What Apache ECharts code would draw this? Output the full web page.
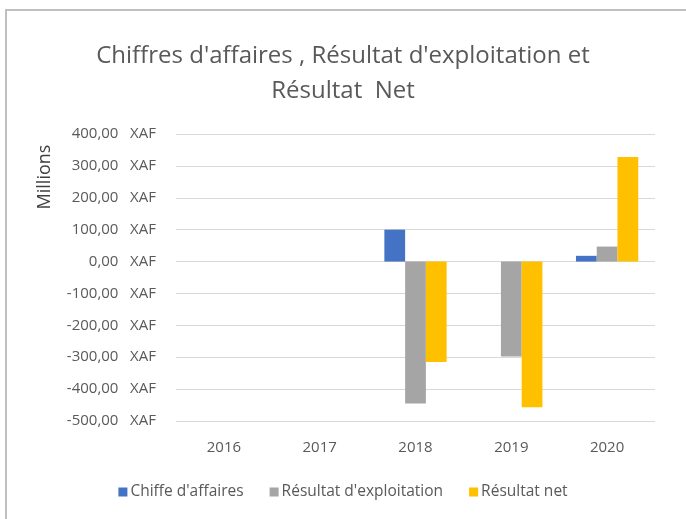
<!DOCTYPE html>
<html><head><meta charset="utf-8">
<script src="https://cdn.jsdelivr.net/npm/echarts@6/dist/echarts.min.js"></script>
<style>html,body{margin:0;padding:0;background:#fff}#c{width:686px;height:519px}</style>
</head><body><div id="c"></div>
<script>
const categories = ['2016','2017','2018','2019','2020'];
const chiffreAffaires = [null, null, 100, null, 18];
const resultatExploitation = [null, null, -445, -298, 47];
const resultatNet = [null, null, -315, -457, 328];
const seriesNames = ["Chiffe d'affaires", "Résultat d'exploitation", "Résultat net"];
const yTicks = { min: -500, max: 400, interval: 100 };

const fontFam = '"Open Sans", "Liberation Sans", sans-serif';
const chart = echarts.init(document.getElementById('c'), null, {renderer:'canvas'});
function fmt(v){ return v.toFixed(2).replace('.', ',') + '   XAF'; }
chart.setOption({
  animation:false,
  backgroundColor:'#fff',
  title:{
    text:"Chiffres d'affaires , Résultat d'exploitation et\nRésultat  Net",
    left:'center', top:34,
    textStyle:{color:'#595959', fontSize:24, fontWeight:'normal', fontFamily:fontFam, lineHeight:35}
  },
  graphic:[
    {type:'rect', shape:{x:6, y:10, width:720, height:560}, style:{fill:'none', stroke:'#bfbfbf', lineWidth:2}, silent:true},
    {type:'text', x:45, y:177, rotation:Math.PI/2, style:{text:'Millions', fill:'#404040', font:'18px '+fontFam, align:'center', verticalAlign:'middle'}}
  ],
  legend:{
    bottom:14, left:'center', itemWidth:9, itemHeight:9, itemGap:26,
    icon:'rect',
    textStyle:{color:'#595959', fontSize:15.5, fontFamily:fontFam, padding:[0,0,0,-2]},
    data:seriesNames
  },
  grid:{left:176, right:31, top:134, bottom:98},
  xAxis:{
    type:'category', data:categories,
    axisLine:{show:false}, axisTick:{show:false},
    axisLabel:{color:'#595959', fontSize:15, fontFamily:fontFam, margin:19}
  },
  yAxis:{
    type:'value', min:yTicks.min, max:yTicks.max, interval:yTicks.interval,
    axisLine:{show:false}, axisTick:{show:false},
    axisLabel:{color:'#595959', fontSize:15, fontFamily:fontFam, margin:20, formatter:fmt},
    splitLine:{lineStyle:{color:'#d9d9d9', width:1}}
  },
  series:[
    {name:seriesNames[0], type:'bar', data:chiffreAffaires, itemStyle:{color:'#4472C4'}, barGap:'0%', barCategoryGap:'35%'},
    {name:seriesNames[1], type:'bar', data:resultatExploitation, itemStyle:{color:'#A5A5A5'}, barGap:'0%', barCategoryGap:'35%'},
    {name:seriesNames[2], type:'bar', data:resultatNet, itemStyle:{color:'#FFC000'}, barGap:'0%', barCategoryGap:'35%'}
  ]
});
</script></body></html>
